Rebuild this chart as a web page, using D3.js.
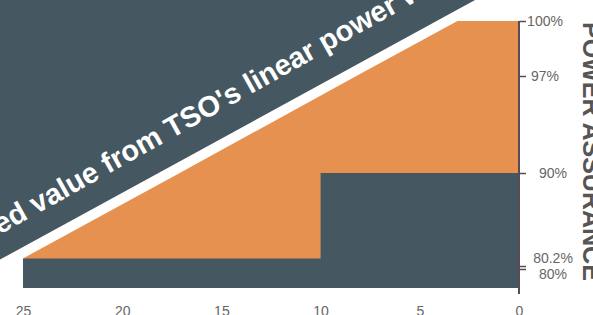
<!DOCTYPE html>
<html>
<head>
<meta charset="utf-8">
<script src="https://cdn.jsdelivr.net/npm/d3@7"></script>
<style>
  html, body { margin: 0; padding: 0; background: #fff; overflow: hidden; }
  svg { display: block; font-family: "Liberation Sans", Arial, sans-serif; }
</style>
</head>
<body>
<div id="chart"></div>
<script>
// warranty line (years remaining -> power assurance %)
var warrantyYears = [25, 17.1, 8.2, 3.1, 0];
var warrantyPower = [81, 90, 97, 100, 100];

// measured / step values
var stepYears = [25, 10, 10, 0];
var stepPower = [81, 81, 90, 90];

var xTicks = [25, 20, 15, 10, 5, 0];
var yTicks = [100, 97, 90, 80.2, 80];
var yTickLabels = ['100%', '97%', '90%', '80.2%', '80%'];

var bannerText = "Guaranteed value from TSO's linear power warranty";
var axisTitle = 'POWER ASSURANCE';

var width = 593, height = 315;
var dark = '#455760', orange = '#e6914f', axisColor = '#5a4a56';

var svg = d3.select('#chart')
  .append('svg')
    .attr('width', width)
    .attr('height', height);

svg.append('rect')
  .attr('width', width)
  .attr('height', height)
  .attr('fill', '#fff');

// x runs backwards: 25 years on the left, 0 on the right
var x = d3.scaleLinear()
  .domain([25, 0])
  .range([23, 519]);

// piecewise scale, the picture stretches the upper part
var y = d3.scaleLinear()
  .domain([79, 80, 80.2, 90, 97, 100])
  .range([288, 269, 266, 173, 76, 21]);

var baseValue = 79;

// banner: dark ribbon parallel to the warranty line
var p0 = [x(warrantyYears[0]), y(warrantyPower[0])];
var p1 = [x(warrantyYears[3]), y(warrantyPower[3])];
var angle = Math.atan2(p0[1] - p1[1], p1[0] - p0[0]) * 180 / Math.PI;

var banner = svg.append('g')
  .attr('transform', 'translate(' + p0[0] + ',' + p0[1] + ') rotate(' + (-angle) + ')');

banner.append('rect')
  .attr('x', -1000)
  .attr('y', -1010)
  .attr('width', 3000)
  .attr('height', 1000)
  .attr('fill', dark);

banner.append('text')
  .attr('transform', 'rotate(-0.6)')
  .attr('x', -136)
  .attr('y', -32)
  .attr('fill', '#fff')
  .attr('font-size', 29)
  .attr('font-weight', 'bold')
  .text(bannerText);

// orange warranty area
var warrantyData = warrantyYears.map(function(d, i) { return {year: d, value: warrantyPower[i]}; });
svg.append('path')
  .datum(warrantyData)
  .attr('fill', orange)
  .attr('d', d3.area()
    .x(function(d) { return x(d.year); })
    .y0(y(baseValue))
    .y1(function(d) { return y(d.value); })
  );

// dark step area
var stepData = stepYears.map(function(d, i) { return {year: d, value: stepPower[i]}; });
svg.append('path')
  .datum(stepData)
  .attr('fill', dark)
  .attr('d', d3.area()
    .x(function(d) { return x(d.year); })
    .y0(y(baseValue))
    .y1(function(d) { return y(d.value); })
  );

// right axis
var yAxis = svg.append('g')
  .attr('transform', 'translate(' + x(0) + ',0)')
  .call(d3.axisRight(y)
    .tickValues(yTicks)
    .tickSize(7)
    .tickFormat(function(d, i) { return yTickLabels[i]; }));

yAxis.select('.domain').remove();
yAxis.selectAll('.tick line')
  .attr('stroke', axisColor)
  .attr('stroke-width', 1.5);
yAxis.selectAll('.tick text')
  .attr('fill', '#666')
  .attr('font-size', 14)
  .attr('font-family', '"Liberation Sans", Arial, sans-serif')
  .attr('text-anchor', 'middle')
  .attr('x', function(d) { return d >= 97 ? 26 : 34; })
  .attr('dy', function(d) {
    if (d === 80.2) return '-0.22em';
    if (d === 80) return '0.65em';
    return '0.35em';
  });

svg.append('line')
  .attr('x1', x(0))
  .attr('x2', x(0))
  .attr('y1', y(100))
  .attr('y2', y(baseValue) + 6)
  .attr('stroke', axisColor)
  .attr('stroke-width', 2);

// bottom axis, labels only
var xAxis = svg.append('g')
  .attr('transform', 'translate(0,' + (y(baseValue) + 15) + ')')
  .call(d3.axisBottom(x)
    .tickValues(xTicks)
    .tickSize(0)
    .tickFormat(d3.format('d')));

xAxis.select('.domain').remove();
xAxis.selectAll('.tick text')
  .attr('fill', '#666')
  .attr('font-size', 14)
  .attr('font-family', '"Liberation Sans", Arial, sans-serif');

// axis title, cut by the right edge
svg.append('text')
  .attr('transform', 'translate(583,22) rotate(90)')
  .attr('fill', '#555')
  .attr('font-size', 25)
  .attr('font-weight', 'bold')
  .text(axisTitle);
</script>
</body>
</html>
